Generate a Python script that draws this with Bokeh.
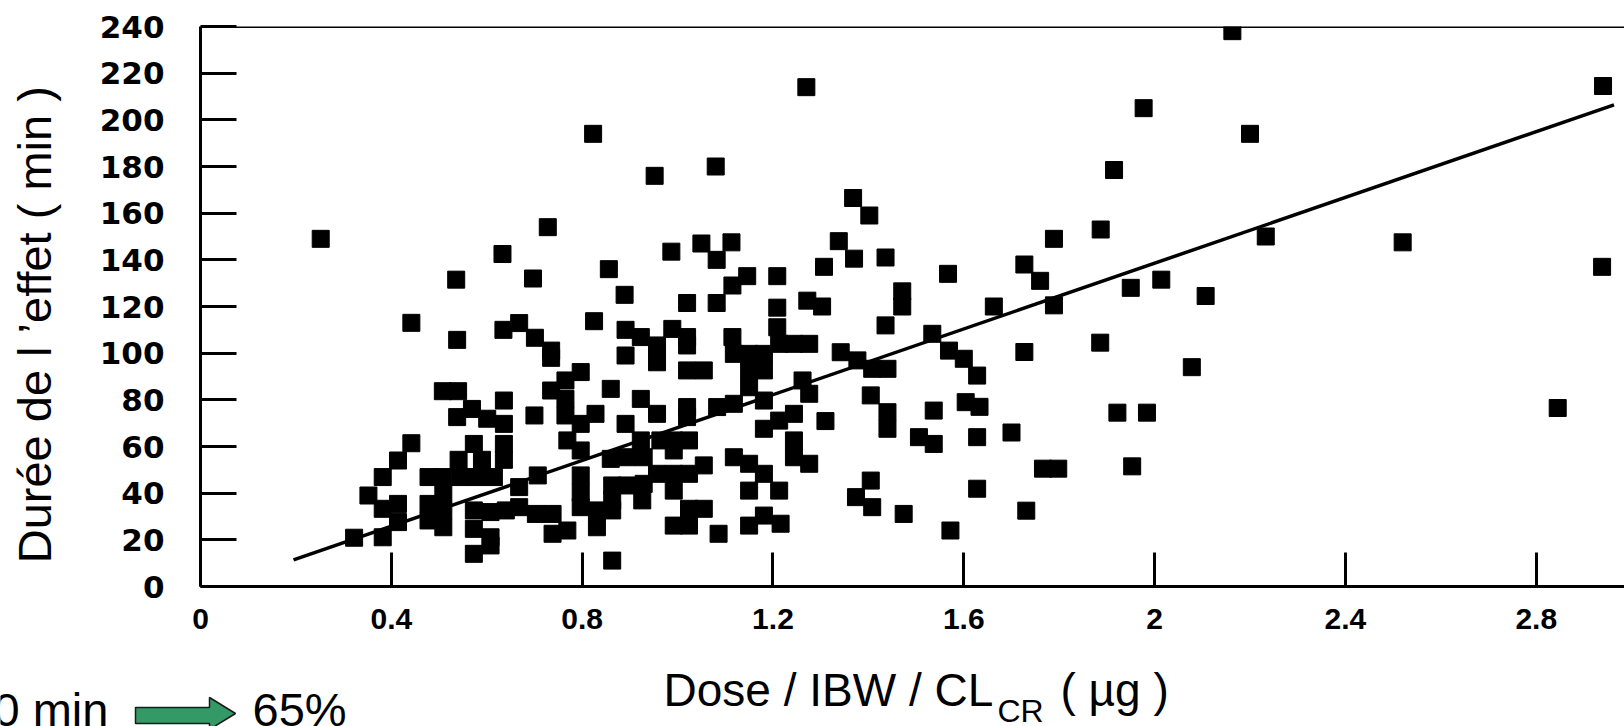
from math import pi
from bokeh.plotting import figure
from bokeh.layouts import column, row
from bokeh.models import Range1d, FixedTicker, Span
from bokeh.core.properties import value
from bokeh.embed import file_html
from bokeh.resources import INLINE

# ---------------- data ----------------
dose = [
    # upper-left region
    0.252, 0.823, 0.728, 0.633, 0.536, 0.697, 0.856, 0.889,
    # upper-middle region
    1.270, 0.952, 1.080, 1.368, 1.402, 0.987, 1.050, 1.113, 1.082, 1.338,
    1.307, 1.370, 1.436, 1.567, 1.727, 1.760, 1.789, 1.146, 1.115, 1.209,
    1.020, 1.082, 1.209, 1.272, 1.303, 1.471, 1.471, 1.663, 1.789,
    # upper-right region
    2.163, 1.977, 2.940, 2.200, 1.915, 1.887, 2.233, 2.520, 2.938, 1.950,
    2.014, 2.107,
    # lower-right region
    1.886, 1.727, 2.078, 1.633, 1.922, 1.984, 1.700, 1.766, 1.798, 1.953,
    1.731, 2.845,
    # lower-left dense region
    0.442, 0.538, 0.635, 0.668, 0.701, 0.735, 0.735, 0.735, 0.508, 0.540,
    0.569, 0.538, 0.636, 0.636, 0.601, 0.700, 0.442, 0.414, 0.382, 0.352,
    0.573, 0.636, 0.541, 0.590, 0.636, 0.478, 0.509, 0.545, 0.580, 0.615,
    0.707, 0.668, 0.668, 0.382, 0.414, 0.414, 0.382, 0.322, 0.478, 0.509,
    0.509, 0.478, 0.573, 0.608, 0.640, 0.509, 0.573, 0.608, 0.573, 0.608,
    0.703, 0.738, 0.738,
    # lower-middle dense region
    0.825, 0.891, 0.923, 0.957, 0.891, 0.957, 0.989, 1.020, 1.020, 1.020,
    1.055, 1.115, 1.209, 1.436, 1.213, 1.244, 1.276, 1.118, 1.150, 1.181,
    1.342, 1.377, 1.408, 1.440, 1.534, 1.569, 1.600, 1.628, 0.797, 0.765,
    0.765, 0.860, 0.923, 0.957, 0.891, 0.828, 0.797, 0.765, 1.150, 1.181,
    1.150, 1.181, 1.118, 1.083, 1.020, 1.020, 1.262, 1.276, 1.244, 1.213,
    1.181, 1.310, 1.405, 1.440, 1.440, 1.537, 1.506, 1.537, 1.604, 1.628,
    0.769, 0.797, 0.860, 0.894, 0.929, 0.923, 0.964, 0.992, 1.024, 0.992,
    0.797, 0.797, 0.797, 0.863, 0.894, 0.929, 0.957, 0.992, 1.024, 1.055,
    0.992, 0.926, 0.863, 0.863, 0.831, 0.769, 0.831, 1.024, 1.055, 0.992,
    1.024, 1.086, 1.118, 1.150, 1.181, 1.150, 1.213, 1.150, 1.181, 1.216,
    1.244, 1.244, 1.276, 1.405, 1.374, 1.408, 1.474, 1.572, 1.628, 0.863,
]
duree = [
    149.0, 194.0, 154.0, 142.5, 131.5, 132.0, 136.0, 125.0,
    214.0, 176.0, 180.0, 166.5, 159.0, 143.5, 147.0, 147.5, 140.0, 148.0,
    137.0, 140.5, 141.0, 134.0, 138.0, 131.0, 149.0, 133.0, 129.0, 133.0,
    121.5, 121.5, 119.5, 122.5, 120.0, 126.5, 120.0, 120.0, 120.5,
    238.0, 205.0, 214.5, 194.0, 178.5, 153.0, 150.0, 147.5, 137.0, 128.0,
    131.5, 124.5,
    104.5, 100.5, 94.0, 77.0, 74.5, 74.5, 66.0, 50.5, 50.5, 51.5,
    32.5, 76.5,
    113.0, 105.7, 110.0, 112.9, 106.6, 101.1, 98.0, 84.0, 83.7, 83.7,
    76.1, 72.6, 79.7, 69.7, 71.9, 73.3, 61.4, 54.0, 46.9, 39.0,
    61.1, 61.1, 54.3, 54.3, 54.3, 46.9, 46.9, 46.9, 46.9, 46.9,
    47.6, 42.6, 34.0, 33.3, 35.4, 27.6, 21.1, 20.9, 35.4, 39.7,
    32.6, 28.3, 32.6, 31.9, 32.6, 25.4, 24.7, 21.1, 14.0, 17.6,
    31.1, 31.1, 22.6,
    113.7, 110.0, 106.9, 103.3, 99.0, 96.1, 110.4, 106.9, 103.3, 92.6,
    92.6, 106.9, 111.1, 111.9, 104.0, 104.0, 104.0, 99.7, 99.7, 99.7,
    100.4, 96.9, 93.3, 93.3, 108.3, 101.1, 97.6, 90.4, 91.9, 88.3,
    80.4, 84.7, 80.4, 74.0, 69.7, 74.0, 69.7, 73.3, 92.6, 92.6,
    85.4, 79.7, 78.3, 76.9, 76.9, 72.6, 88.3, 82.6, 74.0, 71.1,
    67.6, 70.9, 81.9, 74.7, 67.6, 75.4, 64.0, 61.1, 79.0, 64.0,
    62.6, 58.3, 54.7, 55.4, 55.4, 62.6, 62.6, 62.6, 62.6, 58.3,
    47.6, 40.4, 34.0, 43.3, 43.3, 44.0, 48.3, 48.3, 48.3, 51.9,
    41.1, 36.9, 36.9, 32.6, 32.6, 24.0, 25.4, 33.3, 33.3, 26.1,
    26.1, 22.6, 55.4, 52.6, 48.3, 41.1, 41.1, 26.1, 30.4, 26.9,
    62.6, 55.4, 52.6, 45.4, 38.3, 34.0, 31.1, 24.0, 41.9, 11.1,
]

# regression line end points
reg_x = [0.195, 2.963]
reg_y = [11.4, 206.4]

x_ticks = [0, 0.4, 0.8, 1.2, 1.6, 2.0, 2.4, 2.8]
x_tick_labels = ["0", "0.4", "0.8", "1.2", "1.6", "2", "2.4", "2.8"]
y_ticks = [0, 20, 40, 60, 80, 100, 120, 140, 160, 180, 200, 220, 240]

y_title = "Durée de l \u2019effet ( min )"
x_title_main = "Dose / IBW / CL"
x_title_sub = "CR"
x_title_end = "( \u00b5g )"
note_left = "0 min"
note_right = "65%"

# ---------------- layout ----------------
W, H = 1624, 726
LEFT_W = 80                 # strip holding the rotated y title
TOP_H = 646                 # height of the plot row
FL, FT, FB = 200, 26, 586   # frame left / top / bottom on the page
X_END, Y_END = 2.985, 240
FONT = "Liberation Sans"


def blank(width, height):
    f = figure(width=width, height=height, output_backend="svg", toolbar_location=None,
               x_range=Range1d(0, width), y_range=Range1d(0, height),
               min_border=0, min_border_left=0, min_border_right=0,
               min_border_top=0, min_border_bottom=0)
    f.axis.visible = False
    f.grid.visible = False
    f.outline_line_color = None
    f.background_fill_color = "white"
    f.border_fill_color = "white"
    return f


# ---- main scatter plot ----
p = figure(width=W - LEFT_W, height=TOP_H, output_backend="svg", toolbar_location=None,
           x_range=Range1d(0, X_END), y_range=Range1d(0, Y_END),
           min_border_left=FL - LEFT_W, min_border_right=0, min_border_top=FT,
           min_border_bottom=TOP_H - FB)
p.outline_line_color = None
p.xgrid.visible = False
p.ygrid.visible = False
p.background_fill_color = "white"
p.border_fill_color = "white"

for ax in (p.xaxis[0], p.yaxis[0]):
    ax.axis_line_width = 3
    ax.axis_line_color = "black"
    ax.major_tick_line_width = 3
    ax.major_tick_line_color = "black"
    ax.major_tick_out = 0
    ax.minor_tick_line_color = None
    ax.major_label_text_color = "black"
    ax.major_label_text_font_style = "bold"

p.xaxis[0].ticker = FixedTicker(ticks=x_ticks)
p.xaxis[0].major_label_overrides = {t: l for t, l in zip(x_ticks, x_tick_labels)}
p.xaxis[0].major_tick_in = 34
p.xaxis[0].major_label_text_font = FONT
p.xaxis[0].major_label_text_font_size = "30px"
p.xaxis[0].major_label_standoff = 22

p.yaxis[0].ticker = FixedTicker(ticks=y_ticks)
p.yaxis[0].major_tick_in = 36
p.yaxis[0].major_label_text_font = "DejaVu Sans"
p.yaxis[0].major_label_text_font_size = "31px"
p.yaxis[0].major_label_standoff = 36

p.add_layout(Span(location=Y_END, dimension="width", line_color="black", line_width=3))

p.line(reg_x, reg_y, line_color="black", line_width=3.5)
p.scatter(dose, duree, marker="square", size=17, fill_color="black", line_color="black")

# ---- left strip: y title ----
pl = blank(LEFT_W, TOP_H)
pl.text(x=[34], y=[TOP_H - 344], text=[y_title], angle=pi / 2,
        text_align="center", text_baseline="middle",
        text_font=value(FONT), text_font_size="47px", text_color="black")

# ---- bottom strip: x title and note ----
BH = H - TOP_H
pb = blank(W, BH)


def by(page_y):
    return H - page_y


pb.text(x=[663], y=[by(689)], text=[x_title_main], text_align="left",
        text_baseline="alphabetic", text_font=value(FONT), text_font_size="46px",
        text_color="black")
pb.text(x=[997], y=[by(710)], text=[x_title_sub], text_align="left",
        text_baseline="alphabetic", text_font=value(FONT), text_font_size="32px",
        text_color="black")
pb.text(x=[1060], y=[by(689)], text=[x_title_end], text_align="left",
        text_baseline="alphabetic", text_font=value(FONT), text_font_size="46px",
        text_color="black")

pb.text(x=[-7], y=[by(709)], text=[note_left], text_align="left",
        text_baseline="alphabetic", text_font=value(FONT), text_font_size="47px",
        text_color="black")
pb.text(x=[252], y=[by(709)], text=[note_right], text_align="left",
        text_baseline="alphabetic", text_font=value(FONT), text_font_size="47px",
        text_color="black")

# green block arrow (decoration)
ARW_X0, ARW_XH, ARW_XT = 135, 209, 235
ARW_BT, ARW_BB, ARW_HT, ARW_HB = 707, 723, 697, 729
ARW_MID = (ARW_HT + ARW_HB) / 2
arrow_x = [ARW_X0, ARW_XH, ARW_XH, ARW_XT, ARW_XH, ARW_XH, ARW_X0]
arrow_y = [by(v) for v in (ARW_BT, ARW_BT, ARW_HT, ARW_MID, ARW_HB, ARW_BB, ARW_BB)]
pb.patch(arrow_x, arrow_y, fill_color="#339966", line_color="#1a1a1a", line_width=1.5)

layout = column(row(pl, p, spacing=0), pb, spacing=0)
open("out.html", "w").write(file_html(layout, INLINE))
